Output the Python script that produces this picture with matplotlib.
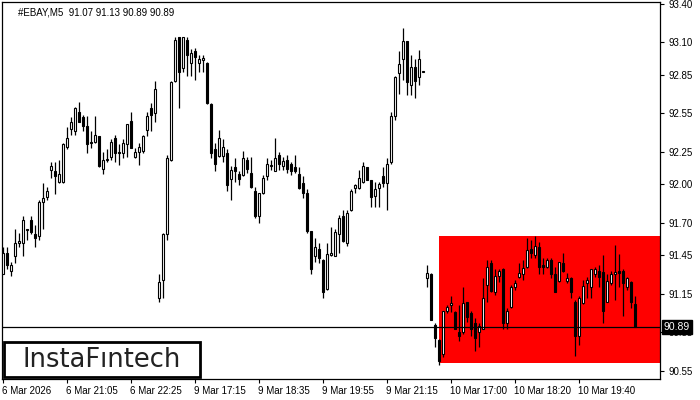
import matplotlib.pyplot as plt
import matplotlib.transforms as mtransforms
from matplotlib.patches import Rectangle
import numpy as np

plt.rcParams['font.family'] = ['Liberation Sans', 'DejaVu Sans']

# OHLC of the 5-minute candles
opens = [91.30, 91.47, 91.33, 91.44, 91.54, 91.54, 91.645, 91.72, 91.61, 91.60,
         91.86, 91.90, 92.11, 92.10, 92.02, 92.02, 92.29, 92.43, 92.41, 92.56,
         92.52, 92.45, 92.33, 92.33, 92.37, 92.12, 92.19, 92.21, 92.36, 92.25,
         92.24, 92.31, 92.49, 92.21, 92.25, 92.26, 92.42, 92.59, 92.55, 91.12,
         91.26, 91.61, 92.19, 92.80, 93.14, 92.90, 93.12, 92.94, 93.03, 92.94,
         92.96, 92.94, 92.62, 92.27, 92.22, 92.22, 92.24, 92.04, 92.13, 92.08,
         92.07, 92.19, 92.09, 91.95, 91.75, 91.93, 92.06, 92.14, 92.10, 92.23,
         92.14, 92.19, 92.16, 92.13, 92.08, 92.01, 91.93, 91.64, 91.44, 91.50,
         91.41, 91.19, 91.45, 91.44, 91.61, 91.75, 91.54, 91.80, 91.97, 91.97,
         92.02, 92.13, 92.03, 91.91, 91.97, 92.06, 92.01, 92.17, 92.53, 92.86,
         92.97, 93.11, 92.77, 92.91, 92.83, 92.87, 91.27, 91.30, 90.91, 90.79,
         90.68, 91.02, 91.06, 91.01, 90.85, 90.85, 91.09, 91.00, 90.92, 90.85,
         90.88, 91.22, 91.39, 91.16, 91.29, 91.34, 90.92, 91.05, 91.20, 91.28,
         91.30, 91.36, 91.50, 91.45, 91.51, 91.37, 91.36, 91.41, 91.30, 91.25,
         91.39, 91.25, 91.27, 91.09, 90.82, 91.08, 91.23, 91.20, 91.30, 91.33,
         91.32, 91.09, 91.23, 91.30, 91.33, 91.33, 91.20, 91.24, 91.07]
highs = [91.51, 91.51, 91.40, 91.65, 91.62, 91.75, 91.653, 91.75, 91.68, 91.88,
         92.01, 91.98, 92.17, 92.17, 92.19, 92.32, 92.44, 92.52, 92.60, 92.64,
         92.54, 92.53, 92.41, 92.53, 92.37, 92.25, 92.27, 92.35, 92.38, 92.31,
         92.35, 92.47, 92.56, 92.28, 92.32, 92.38, 92.56, 92.63, 92.80, 91.30,
         91.62, 92.23, 92.80, 93.14, 93.14, 93.14, 93.14, 93.05, 93.06, 93.00,
         93.00, 92.95, 92.63, 92.32, 92.42, 92.35, 92.27, 92.14, 92.20, 92.10,
         92.26, 92.21, 92.21, 91.98, 91.93, 92.07, 92.20, 92.19, 92.36, 92.25,
         92.21, 92.23, 92.17, 92.23, 92.13, 92.06, 91.96, 91.64, 91.58, 91.54,
         91.42, 91.54, 91.67, 91.65, 91.76, 91.80, 91.80, 91.96, 92.00, 92.11,
         92.17, 92.13, 92.03, 92.02, 92.02, 92.13, 92.20, 92.56, 92.84, 93.03,
         93.21, 93.11, 93.00, 92.97, 93.04, 92.875, 91.37, 91.31, 90.92, 90.80,
         91.02, 91.06, 91.13, 91.02, 91.06, 91.20, 91.09, 91.02, 90.96, 90.92,
         91.27, 91.41, 91.41, 91.34, 91.34, 91.35, 91.04, 91.22, 91.26, 91.39,
         91.41, 91.58, 91.57, 91.60, 91.55, 91.43, 91.43, 91.43, 91.36, 91.40,
         91.47, 91.31, 91.28, 91.10, 91.13, 91.26, 91.28, 91.34, 91.36, 91.37,
         91.45, 91.30, 91.33, 91.53, 91.46, 91.34, 91.28, 91.25, 91.13]
lows = [91.30, 91.34, 91.29, 91.39, 91.51, 91.44, 91.57, 91.61, 91.51, 91.57,
        91.65, 91.88, 92.05, 91.92, 92.01, 92.01, 92.27, 92.38, 92.38, 92.48,
        92.41, 92.24, 92.28, 92.32, 92.13, 92.08, 92.17, 92.19, 92.17, 92.15,
        92.20, 92.21, 92.28, 92.20, 92.15, 92.24, 92.37, 92.41, 92.48, 91.09,
        91.12, 91.57, 92.18, 92.79, 92.59, 92.87, 92.84, 92.84, 92.81, 92.87,
        92.87, 92.62, 92.20, 92.10, 92.21, 92.17, 91.95, 91.88, 92.02, 91.99,
        92.06, 92.09, 91.97, 91.74, 91.70, 91.92, 92.03, 92.11, 92.10, 92.11,
        92.11, 92.09, 92.07, 92.09, 91.96, 91.89, 91.62, 91.30, 91.40, 91.39,
        91.12, 91.18, 91.44, 91.44, 91.47, 91.55, 91.52, 91.79, 91.93, 91.96,
        92.01, 92.03, 91.82, 91.82, 91.82, 91.98, 91.80, 92.16, 92.50, 92.70,
        92.81, 92.69, 92.69, 92.67, 92.77, 92.87, 91.20, 90.95, 90.74, 90.60,
        90.66, 91.00, 91.01, 90.88, 90.78, 90.84, 90.93, 90.82, 90.71, 90.74,
        90.88, 91.09, 91.16, 91.14, 91.24, 90.88, 90.88, 91.04, 91.18, 91.27,
        91.26, 91.35, 91.43, 91.43, 91.30, 91.30, 91.35, 91.27, 91.16, 91.24,
        91.32, 91.23, 91.12, 90.67, 90.75, 91.07, 91.12, 91.12, 91.28, 91.20,
        90.92, 91.09, 91.22, 91.10, 91.20, 90.98, 91.18, 91.04, 90.89]
closes = [91.47, 91.37, 91.37, 91.54, 91.56, 91.72, 91.65, 91.63, 91.58, 91.86,
          91.89, 91.95, 92.14, 92.06, 92.08, 92.31, 92.36, 92.48, 92.59, 92.48,
          92.45, 92.31, 92.32, 92.38, 92.14, 92.19, 92.197, 92.33, 92.24, 92.24,
          92.32, 92.47, 92.28, 92.25, 92.29, 92.37, 92.53, 92.54, 92.74, 91.24,
          91.61, 92.20, 92.79, 93.12, 92.87, 93.14, 93.00, 93.02, 92.99, 92.97,
          92.98, 92.63, 92.24, 92.16, 92.36, 92.29, 91.99, 92.11, 92.10, 92.04,
          92.20, 92.12, 91.98, 91.75, 91.93, 92.05, 92.16, 92.15, 92.20, 92.16,
          92.18, 92.12, 92.10, 92.10, 91.97, 91.93, 91.64, 91.34, 91.51, 91.43,
          91.16, 91.46, 91.47, 91.63, 91.74, 91.56, 91.78, 91.95, 91.99, 92.05,
          92.14, 92.03, 91.90, 91.96, 92.00, 92.01, 92.16, 92.53, 92.83, 92.93,
          93.11, 92.79, 92.91, 92.80, 92.97, 92.873, 91.31, 90.95, 90.81, 90.63,
          91.02, 91.05, 91.08, 90.88, 90.82, 91.08, 90.97, 90.88, 90.81, 90.90,
          91.12, 91.36, 91.17, 91.29, 91.33, 90.92, 91.02, 91.20, 91.23, 91.31,
          91.35, 91.49, 91.47, 91.52, 91.36, 91.36, 91.41, 91.30, 91.16, 91.40,
          91.33, 91.27, 91.16, 90.82, 91.12, 91.21, 91.26, 91.34, 91.34, 91.28,
          91.02, 91.25, 91.30, 91.32, 91.31, 91.23, 91.27, 91.09, 90.89]

y_ticks = [93.40, 93.10, 92.85, 92.55, 92.25, 92.00, 91.70, 91.45, 91.15, 90.85, 90.55]
x_tick_bars = [0, 16, 32, 48, 64, 80, 96, 112, 128, 144]
x_tick_labels = ["6 Mar 2026", "6 Mar 21:05", "6 Mar 22:25", "9 Mar 17:15", "9 Mar 18:35",
                 "9 Mar 19:55", "9 Mar 21:15", "10 Mar 17:00", "10 Mar 18:20", "10 Mar 19:40"]
zone_start = 109
zone_low, zone_high = 90.61, 91.60
last_price = 90.89

o = np.array(opens)
h = np.array(highs)
l = np.array(lows)
c = np.array(closes)
idx = np.arange(len(o))

fig = plt.figure(figsize=(7, 4), dpi=100)
ax = fig.add_axes([2/700, 21/400, 658/700, 377/400])
ax.set_xlim(-0.25, 164.25)
ax.set_ylim(90.489, 93.413)

# red pattern zone
ax.fill_between([zone_start, 170], zone_low, zone_high, color="#ff0000", lw=0, zorder=1)

ax.vlines(idx, l, h, color="black", lw=0.9, zorder=2)
up = c >= o
body = np.maximum(np.abs(c - o), 0.006)
bottom = np.minimum(o, c)
ax.bar(idx[up], body[up], bottom=bottom[up], width=0.5, color="white",
       edgecolor="black", lw=0.8, zorder=3)
ax.bar(idx[~up], body[~up], bottom=bottom[~up], width=0.5, color="black",
       edgecolor="black", lw=0.8, zorder=3)

ax.axhline(last_price, color="black", lw=0.9, zorder=4)

ax.yaxis.tick_right()
ax.set_yticks(y_ticks)
ax.set_yticklabels([f"{v:.2f}" for v in y_ticks], fontsize=7)
ax.tick_params(axis="y", length=3, width=0.8, pad=3)
ax.set_xticks(x_tick_bars)
ax.set_xticklabels(x_tick_labels, fontsize=7, ha="left")
ax.tick_params(axis="x", length=3, width=0.8, pad=2)
for t in ax.get_xticklabels():
    t.set_transform(t.get_transform() + mtransforms.ScaledTranslation(-1/100, 0, fig.dpi_scale_trans))
for s in ax.spines.values():
    s.set_linewidth(0.9)

trans = mtransforms.blended_transform_factory(ax.transAxes, ax.transData)
ax.text(1.006, last_price, f"{last_price:.2f}", transform=trans, fontsize=7.5,
        color="white", va="center", ha="left", zorder=6,
        bbox=dict(boxstyle="square,pad=0.2", fc="black", ec="black"))

ax.text(0.025, 0.985, "#EBAY,M5  91.07 91.13 90.89 90.89", transform=ax.transAxes,
        fontsize=7, va="top", ha="left")

# logo box
fig.patches.append(Rectangle((4/700, 23/400), 196/700, 35/400, transform=fig.transFigure,
                             fc="white", ec="black", lw=2, zorder=10))
fig.text(102/700, 40/400, "InstaFıntech", family="DejaVu Sans", fontsize=18.5,
         color="#222222", va="center", ha="center", zorder=11)

fig.savefig("out.png", dpi=100)
